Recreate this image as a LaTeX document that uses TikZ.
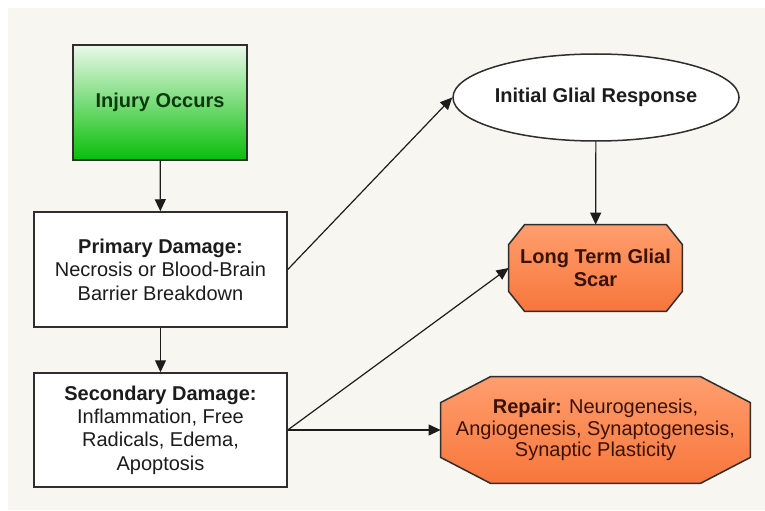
\documentclass[tikz,border=0pt]{standalone}
\usepackage{fontspec}
\setmainfont{Liberation Sans}
\usepackage{tikz}
\usepackage{xcolor}
\usetikzlibrary{arrows.meta, positioning, calc, shapes.geometric, backgrounds}

\definecolor{bgbeige}{HTML}{F8F6F0}
\definecolor{edgegray}{HTML}{2E2E2E}
\definecolor{greentop}{HTML}{EAF9EA}
\definecolor{greenbot}{HTML}{08BE08}
\definecolor{greentext}{HTML}{0C3A0C}
\definecolor{orangetop}{HTML}{FF9E6E}
\definecolor{orangebot}{HTML}{F7763C}
\definecolor{browntext}{HTML}{3A1206}
\definecolor{darktext}{HTML}{1C1C1C}

\newcommand{\chamferbox}[3]{%
    \path[octfill] ($(#1.north west)+(#2,0)$) -- ($(#1.north east)+(-#2,0)$)
        -- ($(#1.north east)+(0,-#3)$) -- ($(#1.south east)+(0,#3)$)
        -- ($(#1.south east)+(-#2,0)$) -- ($(#1.south west)+(#2,0)$)
        -- ($(#1.south west)+(0,#3)$) -- ($(#1.north west)+(0,-#3)$) -- cycle;}

\begin{document}
\begin{tikzpicture}[x=0.5pt, y=0.5pt,
    every node/.style={font=\fontsize{10}{11.7}\selectfont, align=center, inner sep=0pt},
    box/.style={draw=edgegray, line width=0.75pt, fill=white, text=darktext},
    octnode/.style={text=browntext},
    octfill/.style={draw=edgegray, line width=0.75pt, top color=orangetop, bottom color=orangebot},
    arr/.style={draw=darktext, line width=0.6pt, -{Triangle[length=6pt, width=5.5pt]}}]
    \useasboundingbox (0,0) rectangle (765,510);
    \begin{scope}[on background layer]
        \fill[white] (0,0) rectangle (765,510);
        \fill[bgbeige] (8,0) rectangle (765,502);
    \end{scope}

    \node[box, top color=greentop, bottom color=greenbot, text=greentext,
          minimum width=87pt, minimum height=57.5pt] (injury) at (160,407.5) {\textbf{Injury Occurs}};
    \node[box, minimum width=126.5pt, minimum height=57.5pt] (primary) at (160.5,240.5) {
        \textbf{Primary Damage:}\\
        Necrosis or Blood-Brain\\
        Barrier Breakdown};
    \node[box, minimum width=126.5pt, minimum height=57pt] (secondary) at (160.5,80) {
        \textbf{Secondary Damage:}\\
        Inflammation, Free\\
        Radicals, Edema,\\
        Apoptosis};
    \node[box, ellipse, minimum width=114pt, minimum height=43.5pt] (glial) at (596,412.5) {\textbf{Initial Glial Response}};
    \node[octnode, minimum width=86.5pt, minimum height=43pt] (scar) at (595.5,242) {
        \textbf{Long Term Glial}\\
        \textbf{Scar}};
    \node[octnode, minimum width=154.5pt, minimum height=53pt, font=\fontsize{10}{10.8}\selectfont] (repair) at (595.5,80) {
        \textbf{Repair:} Neurogenesis,\\
        Angiogenesis, Synaptogenesis,\\
        Synaptic Plasticity};

    \begin{scope}[on background layer]
        \chamferbox{scar}{16}{20}
        \chamferbox{repair}{50}{26}
    \end{scope}

    \draw[arr] (injury) -- (primary);
    \draw[arr] (primary) -- (secondary);
    \draw[arr] (primary.east) -- (glial.west);
    \draw[arr] (glial) -- (scar);
    \draw[arr] (secondary.east) -- (scar.west);
    \draw[arr] (secondary.east) -- (repair.west);
\end{tikzpicture}
\end{document}
